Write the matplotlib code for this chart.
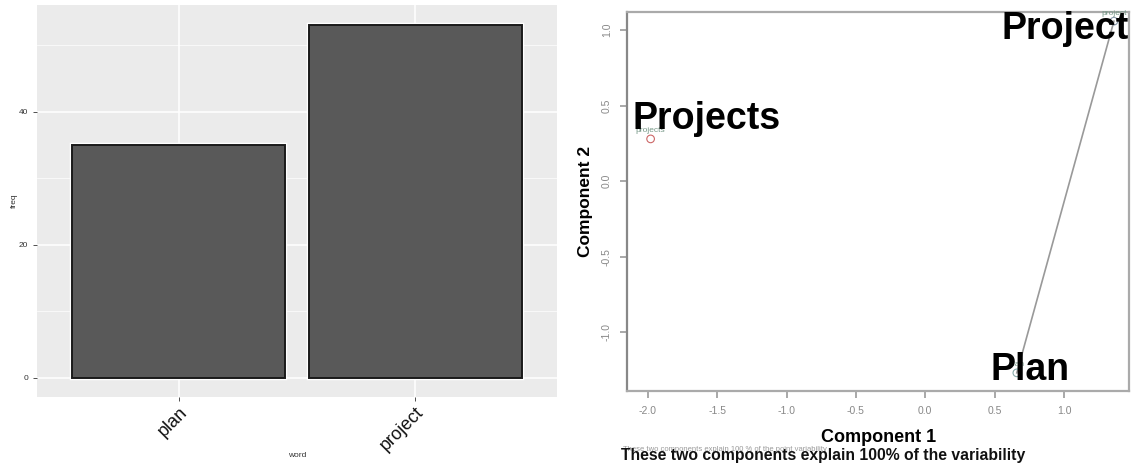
import matplotlib
matplotlib.use("Agg")
import matplotlib.pyplot as plt

# word frequencies
words = ["plan", "project"]
freq = [35, 53]

# cluster plot: component scores for each term
terms = ["Projects", "Project", "Plan"]
small_terms = ["projects", "project", "plan"]
comp1 = [-1.98, 1.36, 0.66]
comp2 = [0.28, 1.06, -1.27]
x_ticks = [-2.0, -1.5, -1.0, -0.5, 0.0, 0.5, 1.0]
y_ticks = [-1.0, -0.5, 0.0, 0.5, 1.0]

fig = plt.figure(figsize=(11.31, 4.66), dpi=100)
plt.rcParams["font.family"] = ["Liberation Sans", "DejaVu Sans"]

# ---- left: bar chart in ggplot style ----
ax = fig.add_axes([0.0327, 0.148, 0.46, 0.841])
ax.set_facecolor("#EBEBEB")
pos = list(range(len(words)))
ax.bar(pos, freq, width=0.9, color="#595959", edgecolor="white", linewidth=3.2, zorder=3)
ax.bar(pos, freq, width=0.9, color="#595959", edgecolor="#1a1a1a", linewidth=1.4, zorder=4)
ax.set_xlim(-0.6, 1.6)
ax.set_ylim(-2.9, 56)
ax.set_yticks([0, 20, 40])
ax.set_yticks([10, 30, 50], minor=True)
ax.set_xticks(pos)
ax.set_xticklabels(words, rotation=45, ha="right", va="top", rotation_mode="anchor",
                   fontsize=13, color="#1a1a1a")
ax.tick_params(axis="y", which="major", labelsize=6, colors="#333333", length=3, width=0.6)
ax.tick_params(axis="y", which="minor", length=0)
ax.tick_params(axis="x", length=3, width=0.6, colors="#333333", pad=2)
for lab in ax.get_xticklabels():
    lab.set_color("#111111")
ax.grid(True, which="major", color="white", linewidth=1.1, zorder=0)
ax.grid(True, which="minor", axis="y", color="white", linewidth=0.5, zorder=0)
ax.set_axisbelow(True)
for s in ax.spines.values():
    s.set_visible(False)
fig.text(0.0125, 0.57, "freq", fontsize=6, color="#333333", rotation=90,
         ha="center", va="center")
fig.text(0.263, 0.022, "word", fontsize=6, color="#333333", ha="center", va="center")

# ---- right: cluster plot ----
bx = fig.add_axes([0.5544, 0.161, 0.444, 0.813])
bx.set_xlim(-2.15, 1.47)
bx.set_ylim(-1.39, 1.12)
bx.set_xticks(x_ticks)
bx.set_yticks(y_ticks)
bx.set_xticklabels(["%.1f" % t for t in x_ticks], fontsize=7.5, color="#888888")
bx.set_yticklabels(["%.1f" % t for t in y_ticks], fontsize=7.5, color="#888888",
                   rotation=90, va="center")
bx.tick_params(length=5, width=1.2, color="#999999", pad=6)
for s in bx.spines.values():
    s.set_color("#aaaaaa")
    s.set_linewidth(1.6)
bx.spines["left"].set_color("#888888")

# line joining plan and project
bx.plot([comp1[2], comp1[1]], [comp2[2], comp2[1]], color="#999999", linewidth=1.2, zorder=2)

bx.scatter(comp1, comp2, s=30, facecolors="none", edgecolors=["#cc6666", "#8899aa", "#88aaaa"],
           linewidths=0.8, zorder=3)
for x, y, t in zip(comp1, comp2, small_terms):
    bx.text(x, y + 0.03, t, fontsize=6, color="#779988", ha="center", va="bottom", zorder=3)

# big term labels
bx.text(comp1[0] - 0.13, comp2[0] + 0.01, terms[0], fontsize=27, fontweight="bold",
        ha="left", va="bottom", color="black", zorder=5)
bx.text(comp1[1] + 0.11, comp2[1] - 0.17, terms[1], fontsize=27, fontweight="bold",
        ha="right", va="bottom", color="black", zorder=5)
bx.text(comp1[2] - 0.19, comp2[2] - 0.1, terms[2], fontsize=27, fontweight="bold",
        ha="left", va="bottom", color="black", zorder=5)

bx.set_xlabel("Component 1", fontsize=13, fontweight="bold", labelpad=9)
bx.set_ylabel("Component 2", fontsize=12.5, fontweight="bold", labelpad=6)

fig.text(0.551, 0.036, "These two components explain 100 % of the point variability",
         fontsize=5.5, color="#999999", ha="left", va="center")
fig.text(0.549, 0.022, "These two components explain 100% of the variability",
         fontsize=11.3, fontweight="bold", color="#111111", ha="left", va="center")

fig.savefig("out.png", dpi=100)
